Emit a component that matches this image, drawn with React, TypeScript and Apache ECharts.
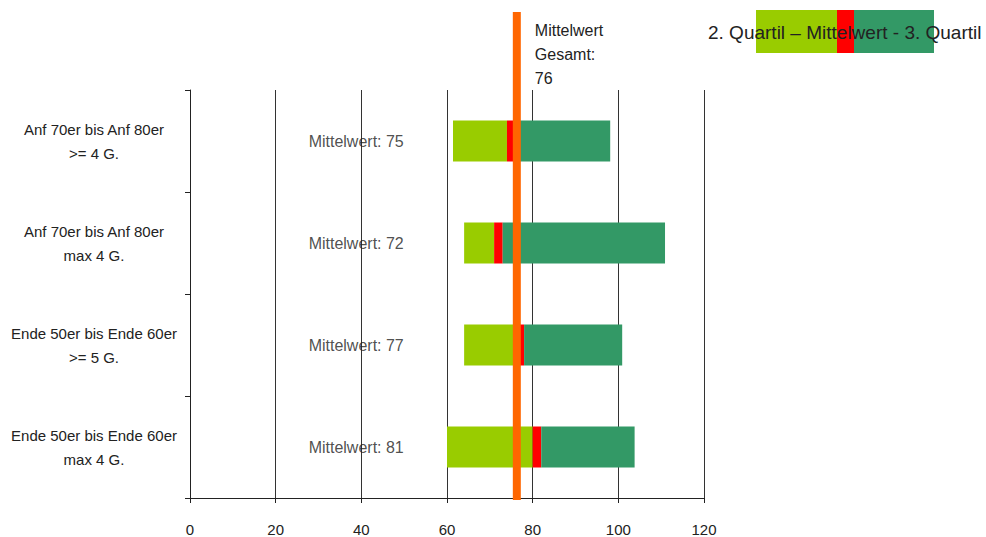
import React, { useEffect, useRef } from "react";
import * as echarts from "echarts";

const categories = [
  "Anf 70er bis Anf 80er\n>= 4 G.",
  "Anf 70er bis Anf 80er\nmax 4 G.",
  "Ende 50er bis Ende 60er\n>= 5 G.",
  "Ende 50er bis Ende 60er\nmax 4 G.",
];
const quartil2 = [61.4, 64, 64, 60];
const mittelwert = [75, 72, 77, 81];
const quartil3 = [98.1, 110.9, 100.9, 103.8];
const mittelwertGesamt = 76.3;
const xTicks = [0, 20, 40, 60, 80, 100, 120];

const RED_HALF = 1;
const FONT = "Liberation Sans, Arial, sans-serif";

export default function App() {
  const ref = useRef<HTMLDivElement>(null);
  useEffect(() => {
    if (!ref.current) return;
    const chart = echarts.init(ref.current, undefined, { renderer: "svg" });
    const option: any = {
      animation: false,
      backgroundColor: "#ffffff",
      textStyle: { fontFamily: FONT },
      grid: { left: 190, right: 282, top: 90, bottom: 39, containLabel: false },
      xAxis: {
        type: "value",
        min: xTicks[0],
        max: xTicks[xTicks.length - 1],
        interval: 20,
        axisLine: { show: true, lineStyle: { color: "#222", width: 1 } },
        axisTick: { show: true, length: 5, lineStyle: { color: "#222" } },
        axisLabel: { color: "#222", fontSize: 15, margin: 24, fontFamily: FONT },
        splitLine: { show: true, lineStyle: { color: "#333", width: 1 } },
      },
      yAxis: {
        type: "category",
        inverse: true,
        data: categories,
        axisLine: { show: true, lineStyle: { color: "#222", width: 1 } },
        axisTick: { show: true, length: 5, inside: false, lineStyle: { color: "#222" } },
        axisLabel: {
          color: "#222",
          fontSize: 15,
          lineHeight: 24,
          align: "center",
          margin: 96,
          fontFamily: FONT,
        },
        splitLine: { show: false },
      },
      series: [
        {
          type: "bar",
          stack: "q",
          barWidth: 41,
          silent: true,
          itemStyle: { color: "rgba(0,0,0,0)" },
          data: quartil2,
        },
        {
          type: "bar",
          stack: "q",
          barWidth: 41,
          itemStyle: { color: "#99CC00" },
          data: mittelwert.map((m, i) => m - RED_HALF - quartil2[i]),
        },
        {
          type: "bar",
          stack: "q",
          barWidth: 41,
          itemStyle: { color: "#FF0000" },
          data: mittelwert.map(() => RED_HALF * 2),
        },
        {
          type: "bar",
          stack: "q",
          barWidth: 41,
          itemStyle: { color: "#339966" },
          data: mittelwert.map((m, i) => quartil3[i] - (m + RED_HALF)),
        },
        {
          type: "scatter",
          symbolSize: 0,
          silent: true,
          data: mittelwert.map((m, i) => [38.8, categories[i], m]),
          label: {
            show: true,
            position: "inside",
            color: "#222",
            fontSize: 16,
            fontFamily: FONT,
            formatter: (p: any) => "Mittelwert: " + p.value[2],
          },
        },
      ],
    };
    chart.setOption(option);
    const px = chart.convertToPixel({ xAxisIndex: 0 }, mittelwertGesamt) as number;
    chart.setOption({
      graphic: [
        {
          type: "rect",
          shape: { x: px - 4, y: 12, width: 8, height: 488 },
          style: { fill: "#FF6600" },
          z: 100,
        },
        {
          type: "text",
          x: px + 18,
          y: 18,
          style: {
            text: "Mittelwert\nGesamt:\n" + Math.round(mittelwertGesamt),
            fill: "#222",
            font: "16px " + FONT,
            lineHeight: 24,
          },
        },
        { type: "rect", shape: { x: 756, y: 10, width: 81, height: 43 }, style: { fill: "#99CC00" } },
        { type: "rect", shape: { x: 837, y: 10, width: 17, height: 43 }, style: { fill: "#FF0000" } },
        { type: "rect", shape: { x: 854, y: 10, width: 80, height: 43 }, style: { fill: "#339966" } },
        {
          type: "text",
          x: 708,
          y: 32,
          z: 10,
          style: {
            text: "2. Quartil \u2013 Mittelwert - 3. Quartil",
            fill: "#222",
            font: "19px " + FONT,
            verticalAlign: "middle",
          },
        },
      ],
    });
    return () => chart.dispose();
  }, []);
  return <div ref={ref} style={{ width: 986, height: 537, position: "absolute", left: 0, top: 0 }} />;
}
